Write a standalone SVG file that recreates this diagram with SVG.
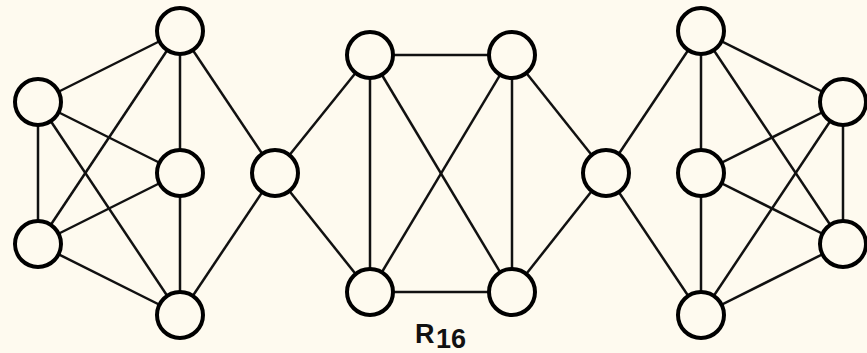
<svg xmlns="http://www.w3.org/2000/svg" width="867" height="353" viewBox="0 0 867 353">
  <style>
    .edge { stroke: #111; stroke-width: 2.5; fill: none; }
    .node circle { fill: #fefaef; stroke: #000; stroke-width: 4; }
    .label { font-family: "Liberation Sans", Arial, sans-serif; font-weight: bold; font-size: 27px; fill: #111; }
  </style>
  <rect width="867" height="353" fill="#fefaef"/>

  <g id="edges" class="edge">
    <!-- left cluster -->
    <line x1="38" y1="102" x2="180" y2="31"/>
    <line x1="38" y1="102" x2="180" y2="173"/>
    <line x1="38" y1="102" x2="38" y2="244"/>
    <line x1="38" y1="102" x2="180" y2="315"/>
    <line x1="180" y1="31" x2="38" y2="244"/>
    <line x1="180" y1="31" x2="180" y2="173"/>
    <line x1="180" y1="31" x2="275" y2="173"/>
    <line x1="180" y1="173" x2="38" y2="244"/>
    <line x1="180" y1="173" x2="180" y2="315"/>
    <line x1="38" y1="244" x2="180" y2="315"/>
    <line x1="180" y1="315" x2="275" y2="173"/>
    <!-- centre block -->
    <line x1="275" y1="173" x2="370" y2="55"/>
    <line x1="275" y1="173" x2="370" y2="292"/>
    <line x1="370" y1="55" x2="512" y2="55"/>
    <line x1="370" y1="55" x2="370" y2="292"/>
    <line x1="370" y1="55" x2="512" y2="292"/>
    <line x1="512" y1="55" x2="370" y2="292"/>
    <line x1="512" y1="55" x2="512" y2="292"/>
    <line x1="370" y1="292" x2="512" y2="292"/>
    <line x1="512" y1="55" x2="606" y2="173"/>
    <line x1="512" y1="292" x2="606" y2="173"/>
    <!-- right cluster -->
    <line x1="606" y1="173" x2="701" y2="31"/>
    <line x1="606" y1="173" x2="701" y2="315"/>
    <line x1="701" y1="31" x2="701" y2="173"/>
    <line x1="701" y1="31" x2="843" y2="102"/>
    <line x1="701" y1="31" x2="843" y2="244"/>
    <line x1="701" y1="173" x2="843" y2="102"/>
    <line x1="701" y1="173" x2="843" y2="244"/>
    <line x1="701" y1="173" x2="701" y2="315"/>
    <line x1="843" y1="102" x2="843" y2="244"/>
    <line x1="843" y1="102" x2="701" y2="315"/>
    <line x1="843" y1="244" x2="701" y2="315"/>
  </g>

  <g id="n1" class="node"><circle cx="38" cy="102" r="23"/></g>
  <g id="n2" class="node"><circle cx="180" cy="31" r="23"/></g>
  <g id="n3" class="node"><circle cx="180" cy="173" r="23"/></g>
  <g id="n4" class="node"><circle cx="38" cy="244" r="23"/></g>
  <g id="n5" class="node"><circle cx="180" cy="315" r="23"/></g>
  <g id="n6" class="node"><circle cx="275" cy="173" r="23"/></g>
  <g id="n7" class="node"><circle cx="370" cy="55" r="23"/></g>
  <g id="n8" class="node"><circle cx="512" cy="55" r="23"/></g>
  <g id="n9" class="node"><circle cx="370" cy="292" r="23"/></g>
  <g id="n10" class="node"><circle cx="512" cy="292" r="23"/></g>
  <g id="n11" class="node"><circle cx="606" cy="173" r="23"/></g>
  <g id="n12" class="node"><circle cx="701" cy="31" r="23"/></g>
  <g id="n13" class="node"><circle cx="843" cy="102" r="23"/></g>
  <g id="n14" class="node"><circle cx="701" cy="173" r="23"/></g>
  <g id="n15" class="node"><circle cx="843" cy="244" r="23"/></g>
  <g id="n16" class="node"><circle cx="701" cy="315" r="23"/></g>

  <text class="label" x="415" y="343">R<tspan x="436" y="348">16</tspan></text>
</svg>
